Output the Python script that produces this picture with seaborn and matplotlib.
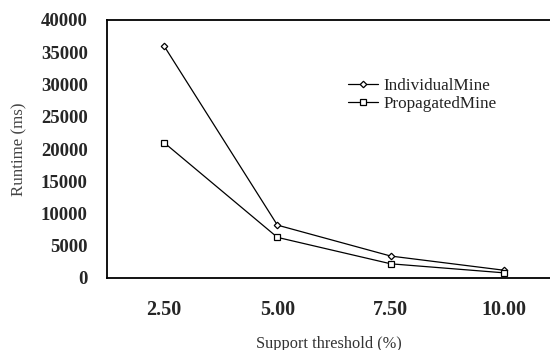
import numpy as np
import pandas as pd
import matplotlib
matplotlib.use("Agg")
import matplotlib.pyplot as plt
import seaborn as sns
from matplotlib.ticker import FixedLocator

categories = ["2.50", "5.00", "7.50", "10.00"]
individual = [36000, 8200, 3400, 1200]
propagated = [21000, 6300, 2200, 800]
series_names = ["IndividualMine", "PropagatedMine"]
y_ticks = [0, 5000, 10000, 15000, 20000, 25000, 30000, 35000, 40000]

sns.set_theme(style="white")
plt.rcParams["font.family"] = ["Liberation Serif", "DejaVu Serif"]

df = pd.DataFrame({
    "threshold": categories * 2,
    "runtime": individual + propagated,
    "series": [series_names[0]] * 4 + [series_names[1]] * 4,
})

fig = plt.figure(figsize=(5.5, 3.5), dpi=100)
ax_left = 107.3 / 550
ax_w = 1 - ax_left
ax = fig.add_axes([ax_left, 72 / 350, ax_w, 258 / 350])

sns.lineplot(data=df, x="threshold", y="runtime", hue="series", style="series",
             markers={series_names[0]: "D", series_names[1]: "s"},
             markersize=4.8, dashes=False,
             palette={series_names[0]: "black", series_names[1]: "black"},
             markerfacecolor="white", markeredgecolor="black", markeredgewidth=0.9,
             linewidth=0.9, ax=ax, sort=False)
for line in ax.lines:
    if line.get_marker() == "D":
        line.set_markersize(3.3)

ax.set_xlim(-0.5, (550 - 164.3) / 113.3)
ax.set_ylim(0, 40000)
ax.set_yticks(y_ticks)
ax.set_yticklabels([str(v) for v in y_ticks], fontsize=13.5, fontweight="bold")
ax.set_xticks(range(len(categories)))
ax.set_xticklabels(categories, fontsize=14.5, fontweight="bold")
ax.xaxis.set_minor_locator(FixedLocator([0.5, 1.5, 2.5, 3.5]))
ax.tick_params(axis="x", which="major", length=0, pad=16)
ax.tick_params(axis="x", which="minor", direction="in", length=5, width=1, color="black")
ax.tick_params(axis="y", which="major", direction="in", length=5, width=1, color="black", pad=14)

ax.set_xlabel("Support threshold (%)", fontsize=11.8, color="#333333", labelpad=11)
ax.set_ylabel("Runtime (ms)", fontsize=12.2, color="#444444", labelpad=10)

for s in ["left", "bottom", "top"]:
    ax.spines[s].set_visible(True)
    ax.spines[s].set_color("black")
    ax.spines[s].set_linewidth(1.3)
ax.spines["right"].set_visible(False)

handles, labels = ax.get_legend_handles_labels()
leg_x = (341 - 107.3) / (550 - 107.3)
leg_y = 1 - (71 - 20) / 258
leg = ax.legend(handles, labels, frameon=False, fontsize=12.3,
                loc="upper left", bbox_to_anchor=(leg_x, leg_y),
                handlelength=1.75, handletextpad=0.33, labelspacing=0.1, borderaxespad=0)
for t in leg.get_texts():
    t.set_color("#222222")

fig.savefig("out.png", dpi=100)
